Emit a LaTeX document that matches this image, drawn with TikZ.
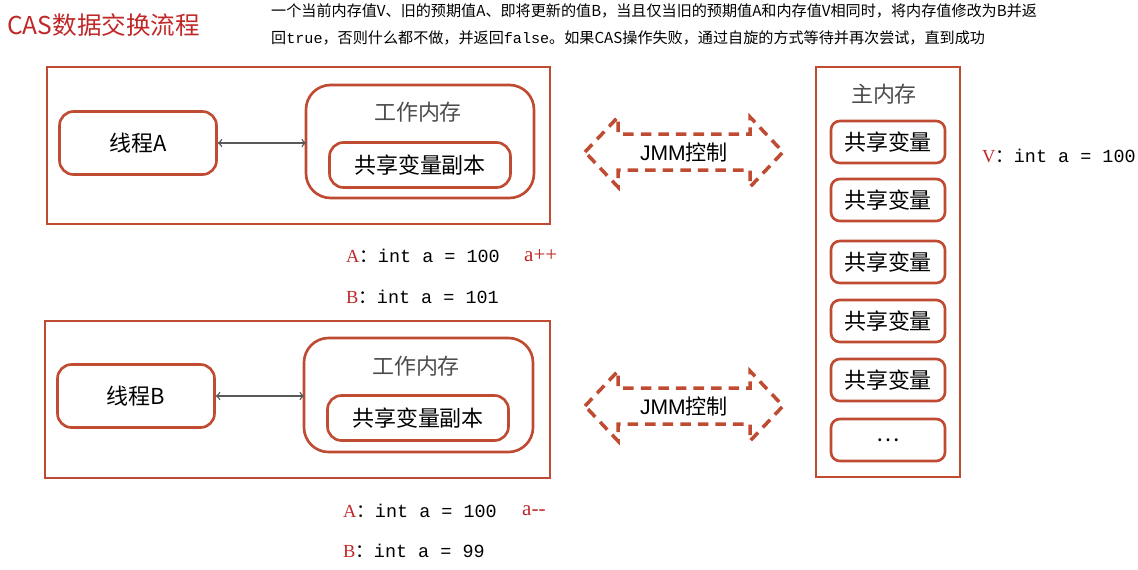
\documentclass[tikz,border=0pt]{standalone}
\usepackage{fontspec}
\setmainfont{Liberation Serif}
\setmonofont{Liberation Mono}
\newfontfamily\cjk{Noto Sans CJK SC}
\usetikzlibrary{positioning}
\definecolor{boxred}{RGB}{190,75,50}
\definecolor{txtred}{RGB}{192,40,40}
\tikzset{
  outerbox/.style={draw=boxred, line width=1.5pt},
  roundbox/.style={draw=boxred, line width=1.5pt, rounded corners=8pt},
  jmmarrow/.style={draw=boxred, line width=2pt, dash pattern=on 6pt off 4pt},
  cn/.style={font=\cjk\fontsize{12.5}{15}\selectfont},
  val/.style={anchor=west, font=\ttfamily\fontsize{10.5}{13}\selectfont}
}
\begin{document}
\begin{tikzpicture}[x=0.02cm, y=-0.02cm]
\useasboundingbox (0,0) rectangle (1138,569);
% title and note
\node[anchor=west, text=txtred, font=\cjk\fontsize{14}{17}\selectfont] (title) at (1,25) {CAS数据交换流程};
\node[anchor=west, font=\cjk\fontsize{8.6}{11}\selectfont] (note1) at (265,11) {一个当前内存值V、旧的预期值A、即将更新的值B，当且仅当旧的预期值A和内存值V相同时，将内存值修改为B并返};
\node[anchor=west, font=\cjk\fontsize{8.6}{11}\selectfont] (note2) at (265,38) {回\texttt{true}，否则什么都不做，并返回\texttt{false}。如果CAS操作失败，通过自旋的方式等待并再次尝试，直到成功};
% thread A
\draw[outerbox] (47,67) rectangle (550,224);
\node[roundbox, cn, minimum width=157*0.02cm, minimum height=63*0.02cm] (thA) at (138,143) {线程A};
\draw[roundbox, rounded corners=14pt] (306,85) rectangle (534,198);
\node[cn, text=black!70] (wmA) at (418,112) {工作内存};
\node[roundbox, cn, minimum width=181*0.02cm, minimum height=45*0.02cm] (cpA) at (420,165) {共享变量副本};
\draw[<->, gray!70!black, thick] (thA.east) -- (306,143);
\node[val] (vaA) at (340,256) {\textcolor{txtred}{\rmfamily A}\cjk：\ttfamily int a = 100};
\node[anchor=west, text=txtred, font=\rmfamily\fontsize{12}{14}\selectfont] (opA) at (518,256) {a++};
\node[val] (vbA) at (340,297) {\textcolor{txtred}{\rmfamily B}\cjk：\ttfamily int a = 101};
% thread B
\draw[outerbox] (45,321) rectangle (550,478);
\node[roundbox, cn, minimum width=157*0.02cm, minimum height=63*0.02cm] (thB) at (136,396) {线程B};
\draw[roundbox, rounded corners=14pt] (304,338) rectangle (533,452);
\node[cn, text=black!70] (wmB) at (416,366) {工作内存};
\node[roundbox, cn, minimum width=181*0.02cm, minimum height=45*0.02cm] (cpB) at (418,418) {共享变量副本};
\draw[<->, gray!70!black, thick] (thB.east) -- (304,396);
\node[val] (vaB) at (337,511) {\textcolor{txtred}{\rmfamily A}\cjk：\ttfamily int a = 100};
\node[anchor=west, text=txtred, font=\rmfamily\fontsize{12}{14}\selectfont] (opB) at (516,511) {a-{}-};
\node[val] (vbB) at (337,551) {\textcolor{txtred}{\rmfamily B}\cjk：\ttfamily int a = 99};
% JMM arrows
\foreach \dy/\nm in {0/jmmA, 254/jmmB} {
  \draw[jmmarrow] (585,152+\dy) -- (618,117+\dy) -- (618,134+\dy) -- (750,134+\dy) -- (750,117+\dy)
    -- (783,152+\dy) -- (750,187+\dy) -- (750,170+\dy) -- (618,170+\dy) -- (618,187+\dy) -- cycle;
  \node[font=\fontspec{Liberation Sans}\fontsize{12}{14}\selectfont] (\nm) at (684,152+\dy) {JMM{\cjk 控制}};
}
% main memory
\draw[outerbox] (816,67) rectangle (960,477);
\node[cn, text=black!70] (mm) at (884,94) {主内存};
\foreach \y/\t in {142/共享变量, 200/共享变量, 262/共享变量, 321/共享变量, 380/共享变量, 440/…} {
  \node[roundbox, cn, rounded corners=5pt, minimum width=114*0.02cm, minimum height=42*0.02cm] at (888,\y) {\t};
}
\node[val, inner sep=1pt] (vv) at (980,156) {\textcolor{txtred}{\rmfamily V}\cjk：\ttfamily int a = 100};
\end{tikzpicture}
\end{document}
